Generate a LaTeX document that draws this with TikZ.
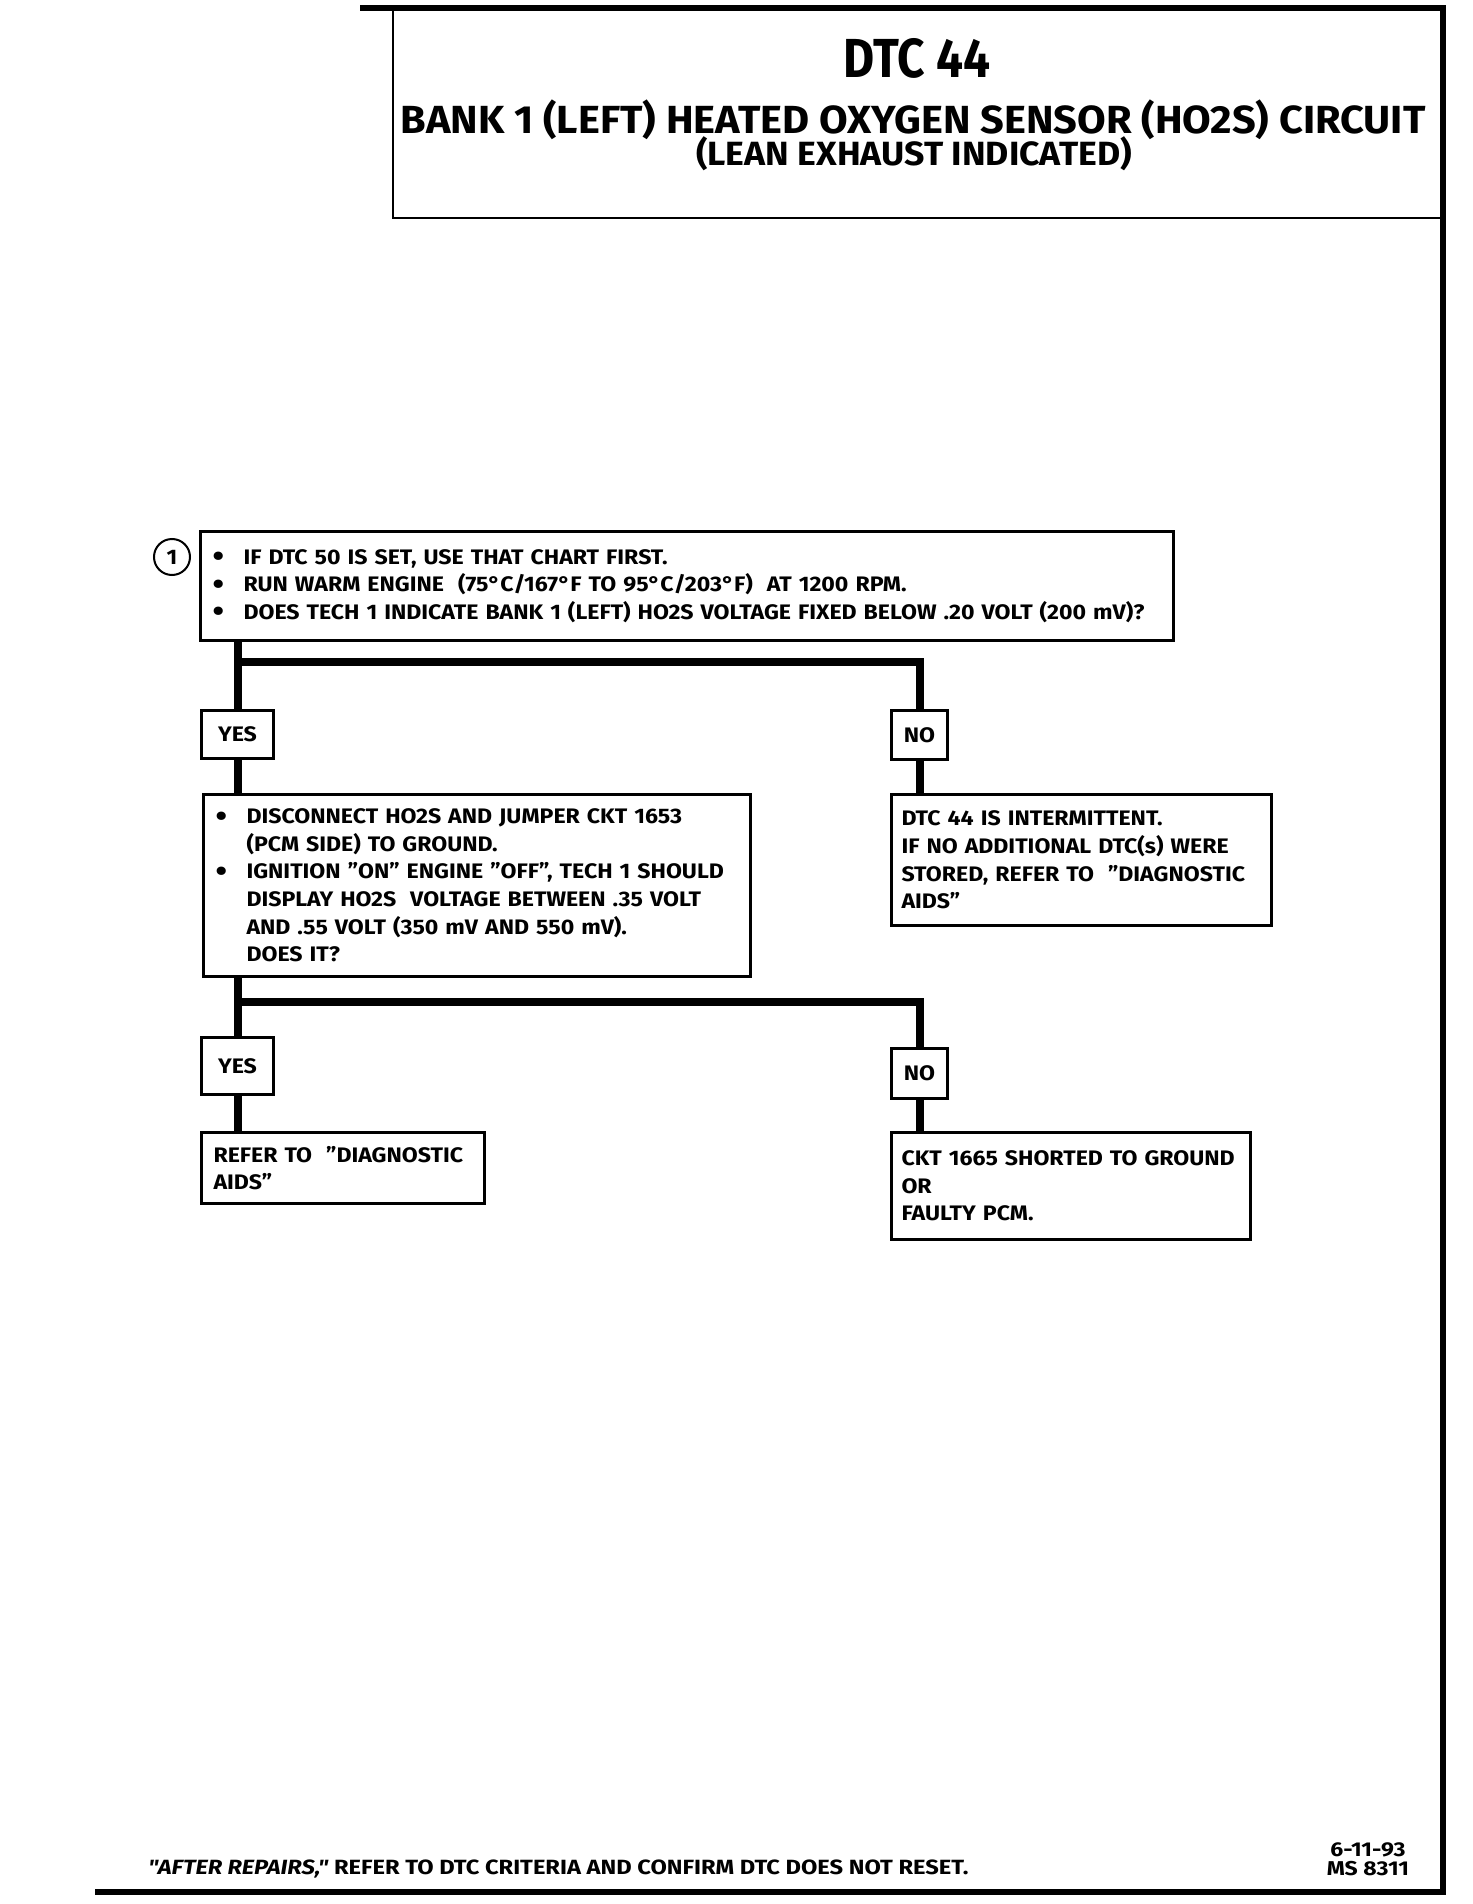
\documentclass[tikz,border=0pt]{standalone}
\usepackage{fontspec}
\setmainfont{Fira Sans}[FakeStretch=1.10]
\newfontfamily\titlefont{Fira Sans}[FakeStretch=1.06]
\newfontfamily\narrowfont{Fira Sans}[FakeStretch=0.87]
\newfontfamily\widefont{Fira Sans}[FakeStretch=1.15]
\usetikzlibrary{positioning}

\newcommand{\bul}{\makebox[15.5pt][l]{\raisebox{-1.3pt}{\fontsize{15}{12}\selectfont\textbullet}}}
\newcommand{\cont}{\hspace*{15.5pt}}

\begin{document}
\begin{tikzpicture}[
        x=0.5pt, y=-0.5pt,
        chartbox/.style={rectangle, draw, line width=1.5pt, anchor=north west,
                         align=left, inner xsep=6pt, inner ysep=0pt,
                         font=\bfseries\fontsize{10.5}{13.8}\selectfont},
        answer/.style={rectangle, draw, line width=1.5pt, anchor=north west,
                       inner sep=0pt, font=\bfseries\fontsize{10.5}{12}\selectfont},
        link/.style={line width=4pt}
    ]
        \useasboundingbox (0,0) rectangle (1472,1904);

        % Title block
        \node[rectangle, draw, line width=1pt, anchor=north west,
              minimum width=525.5pt, minimum height=104.5pt] (titlebox) at (392,8) {};
        \draw[line width=3pt] (360,8) -- (1443,8) -- (1443,1892) -- (95,1892);
        \node[anchor=base, font=\narrowfont\bfseries\fontsize{27.5}{30}\selectfont] (dtc) at (917,78) {DTC 44};
        \node[anchor=base, font=\titlefont\bfseries\fontsize{19.6}{22}\selectfont] (circuit) at (913,134)
            {BANK 1 (LEFT) HEATED OXYGEN SENSOR (HO2S) CIRCUIT};
        \node[anchor=base, font=\titlefont\bfseries\fontsize{16.8}{18}\selectfont] (lean) at (914,166)
            {(LEAN EXHAUST INDICATED)};

        % Step 1
        \node[circle, draw, line width=1pt, minimum size=18pt, inner sep=0pt,
              font=\bfseries\fontsize{10.5}{12}\selectfont] (num1) at (172,557) {1};
        \node[chartbox, text width=474.5pt, minimum height=54.5pt] (q1) at (199,530)
            {\bul IF DTC 50 IS SET, USE THAT CHART FIRST.\\
             \bul RUN WARM ENGINE\ \ (75°C/167°F TO 95°C/203°F)\ \ AT 1200 RPM.\\
             \bul DOES TECH 1 INDICATE BANK 1 (LEFT) HO2S VOLTAGE FIXED BELOW .20 VOLT (200 mV)?};

        \node[answer, minimum width=36pt, minimum height=24pt] (yes1) at (200,709) {YES};
        \node[answer, minimum width=28pt, minimum height=24.5pt] (no1) at (890,709) {NO};
        \coordinate (fork1) at (236,662);
        \draw[link] (q1.south west -| yes1.north) -- (yes1.north);
        \draw[link] (fork1) -| (no1.north);

        % Yes branch: jumper test
        \node[chartbox, text width=261.5pt, minimum height=91pt] (q2) at (202,793)
            {\bul DISCONNECT HO2S AND JUMPER CKT 1653\\
             \cont (PCM SIDE) TO GROUND.\\
             \bul IGNITION "ON" ENGINE "OFF", TECH 1 SHOULD\\
             \cont DISPLAY HO2S\ \ VOLTAGE BETWEEN .35 VOLT\\
             \cont AND .55 VOLT (350 mV AND 550 mV).\\
             \cont DOES IT?};
        \draw[link] (yes1.south) -- (yes1.south |- q2.north);

        % No branch: intermittent
        \node[chartbox, inner xsep=5pt, text width=180pt, minimum height=65.5pt] (q3) at (890,793)
            {DTC 44 IS INTERMITTENT.\\
             IF NO ADDITIONAL DTC(s) WERE\\
             STORED, REFER TO\ \ "DIAGNOSTIC\\
             AIDS"};
        \draw[link] (no1.south) -- (no1.south |- q3.north);

        % Second decision
        \node[answer, minimum width=36pt, minimum height=28.5pt] (yes2) at (200,1036) {YES};
        \node[answer, minimum width=28pt, minimum height=25pt] (no2) at (890,1047) {NO};
        \coordinate (fork2) at (236,1002);
        \draw[link] (q2.south west -| yes2.north) -- (yes2.north);
        \draw[link] (fork2) -| (no2.north);

        \node[chartbox, text width=129.5pt, minimum height=35.5pt] (res1) at (200,1131)
            {REFER TO\ \ "DIAGNOSTIC\\
             AIDS"};
        \draw[link] (yes2.south) -- (yes2.south |- res1.north);

        \node[chartbox, inner xsep=5pt, text width=169.5pt, minimum height=53.5pt] (res2) at (890,1131)
            {CKT 1665 SHORTED TO GROUND\\
             OR\\
             FAULTY PCM.};
        \draw[link] (no2.south) -- (no2.south |- res2.north);

        % Footer
        \node[anchor=base west, inner sep=0pt, font=\widefont\bfseries\fontsize{10.3}{11}\selectfont] (repairs) at (148,1874)
            {{\itshape "AFTER REPAIRS,"} REFER TO DTC CRITERIA AND CONFIRM DTC DOES NOT RESET.};
        \node[anchor=base, inner sep=0pt, font=\widefont\bfseries\fontsize{10}{11}\selectfont] (date) at (1368,1856) {6-11-93};
        \node[anchor=base, inner sep=0pt, font=\widefont\bfseries\fontsize{10}{11}\selectfont] (msnum) at (1368,1875) {MS 8311};
    \end{tikzpicture}
\end{document}
